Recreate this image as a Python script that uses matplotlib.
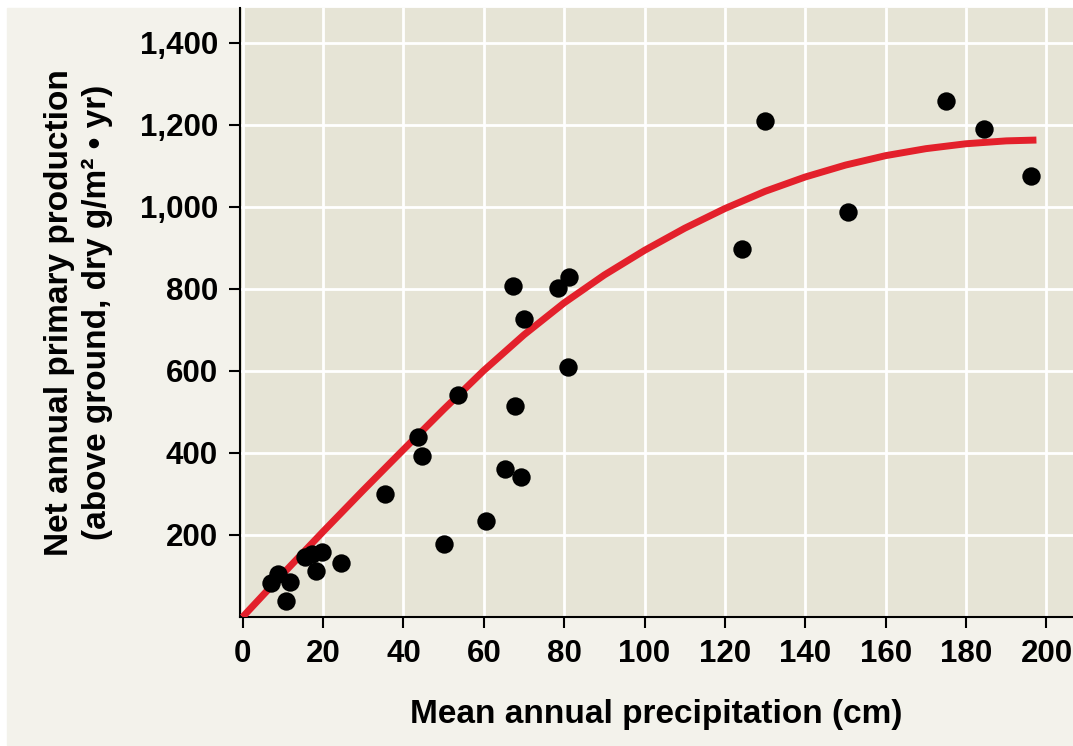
import matplotlib.pyplot as plt
from matplotlib.patches import Rectangle

plt.rcParams['font.family'] = ['Liberation Sans', 'DejaVu Sans']
plt.rcParams['font.weight'] = 'bold'

# measured points (precipitation cm, production g/m2/yr)
precip = [7.0, 8.9, 11.8, 10.7, 15.5, 17.3, 19.7, 18.3, 24.5, 35.4,
          43.6, 44.6, 53.7, 50.1, 60.6, 65.2, 69.3, 67.8, 67.3, 69.9,
          78.4, 81.3, 80.9, 124.2, 129.9, 150.6, 175.0, 184.4, 196.1]
production = [84, 104, 85, 39, 147, 154, 158, 112, 131, 300,
              440, 393, 541, 178, 234, 360, 342, 515, 806, 726,
              803, 830, 610, 898, 1210, 988, 1259, 1190, 1076]

# fitted curve
curve_x = [0, 10, 20, 30, 40, 50, 60, 70, 80, 90, 100, 110, 120, 130,
           140, 150, 160, 170, 180, 190, 197.5]
curve_y = [0, 105, 208, 309, 408, 506, 601, 688, 766, 834, 894, 948, 996,
           1038, 1073, 1102, 1125, 1142, 1154, 1161, 1163]

x_ticks = list(range(0, 201, 20))
y_ticks = list(range(200, 1401, 200))

fig = plt.figure(figsize=(10.73, 7.46), dpi=100)
fig.patch.set_facecolor('white')
bg = Rectangle((7 / 1073, 1 / 746), 1, (746 - 9) / 746,
               transform=fig.transFigure, color='#f3f2eb', zorder=-10)
fig.add_artist(bg)

ax = fig.add_axes([240 / 1073, 129 / 746, 833 / 1073, 609 / 746])
ax.set_zorder(1)
ax.set_facecolor('#e6e4d6')

ax.plot(curve_x, curve_y, color='#e3202b', lw=5, solid_capstyle='butt',
        solid_joinstyle='round', zorder=3)
ax.scatter(precip, production, s=175, color='black', zorder=4, linewidths=0)

ax.set_xlim(-0.65, 206.6)
ax.set_ylim(0, 1485)
ax.set_xticks(x_ticks)
ax.set_yticks(y_ticks)
ax.set_yticklabels([f'{v:,}' for v in y_ticks])
ax.grid(True, color='white', lw=2)
ax.set_axisbelow(True)

for s in ['top', 'right']:
    ax.spines[s].set_visible(False)
for s in ['left', 'bottom']:
    ax.spines[s].set_linewidth(1.5)
ax.tick_params(axis='both', length=8, width=1.5, labelsize=22.5, pad=8)

ax.set_xlabel('Mean annual precipitation (cm)', fontsize=24, fontweight='bold')
ax.xaxis.set_label_coords(0.5, -0.135)
ax.set_ylabel('Net annual primary production\n(above ground, dry g/m² • yr)',
              fontsize=24, fontweight='bold', linespacing=1.3)
ax.yaxis.set_label_coords(-0.152, 0.5)

fig.savefig('out.png', dpi=100)
